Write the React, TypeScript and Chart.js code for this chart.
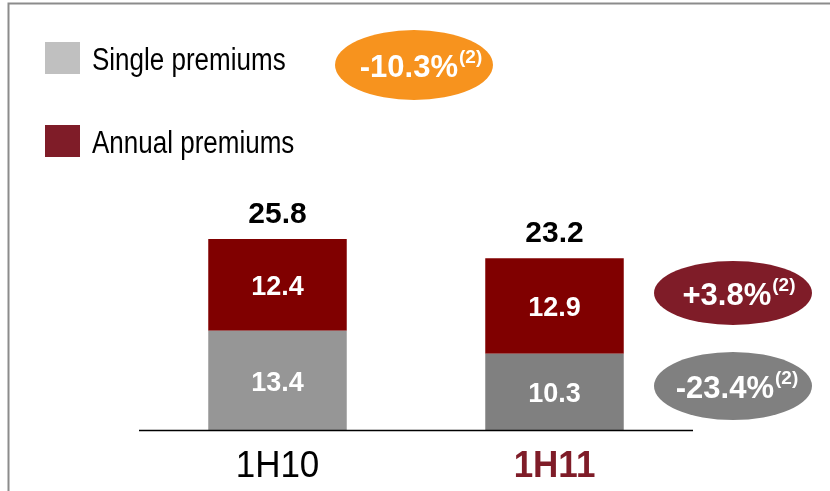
import React, { useEffect, useRef } from "react";
import { Chart, registerables } from "chart.js";

Chart.register(...registerables);

const categories = ["1H10", "1H11"];
const singlePremiums = [13.4, 10.3];
const annualPremiums = [12.4, 12.9];
const totals = [25.8, 23.2];
const seriesNames = ["Single premiums", "Annual premiums"];
const growthTotal = "-10.3%";
const growthAnnual = "+3.8%";
const growthSingle = "-23.4%";
const footnote = "(2)";

const FONT = "'Liberation Sans', Arial, sans-serif";
const RED = "#7F1C28";

function stretchedText(ctx: CanvasRenderingContext2D, text: string, x: number, y: number, sy: number) {
  ctx.save();
  ctx.translate(x, y);
  ctx.scale(1, sy);
  ctx.fillText(text, 0, 0);
  ctx.restore();
}

function drawOval(ctx: CanvasRenderingContext2D, cx: number, cy: number, rx: number, ry: number, fill: string, text: string, dx: number) {
  ctx.save();
  ctx.fillStyle = fill;
  ctx.beginPath();
  ctx.ellipse(cx, cy, rx, ry, 0, 0, Math.PI * 2);
  ctx.fill();
  ctx.fillStyle = "#ffffff";
  ctx.textBaseline = "alphabetic";
  ctx.font = `bold 31px ${FONT}`;
  const w1 = ctx.measureText(text).width;
  ctx.font = `bold 19px ${FONT}`;
  const w2 = ctx.measureText(footnote).width;
  const start = cx + dx - (w1 + w2 + 1) / 2;
  ctx.textAlign = "left";
  ctx.font = `bold 31px ${FONT}`;
  ctx.fillText(text, start, cy + 12);
  ctx.font = `bold 19px ${FONT}`;
  ctx.fillText(footnote, start + w1 + 1, cy - 2);
  ctx.restore();
}

const overlay = {
  id: "overlay",
  afterDatasetsDraw(chart: any) {
    const ctx: CanvasRenderingContext2D = chart.ctx;
    const xs = chart.scales.x;
    const ys = chart.scales.y;
    const area = chart.chartArea;
    ctx.save();
    // frame
    ctx.strokeStyle = "#8c8c8c";
    ctx.lineWidth = 2;
    ctx.beginPath();
    ctx.moveTo(8.5, 491);
    ctx.lineTo(8.5, 3.5);
    ctx.lineTo(830, 3.5);
    ctx.stroke();

    // axis line
    ctx.strokeStyle = "#000000";
    ctx.lineWidth = 1.5;
    ctx.beginPath();
    ctx.moveTo(area.left, ys.getPixelForValue(0) + 0.5);
    ctx.lineTo(area.right, ys.getPixelForValue(0) + 0.5);
    ctx.stroke();

    // category labels
    ctx.textAlign = "center";
    ctx.textBaseline = "alphabetic";
    categories.forEach((c, i) => {
      const x = xs.getPixelForValue(i);
      ctx.font = i === 1 ? `bold 35px ${FONT}` : `35px ${FONT}`;
      ctx.fillStyle = i === 1 ? RED : "#000000";
      stretchedText(ctx, c, x, 477, 1.06);
    });

    // segment labels
    ctx.font = `bold 27px ${FONT}`;
    ctx.fillStyle = "#ffffff";
    categories.forEach((_, i) => {
      const x = xs.getPixelForValue(i);
      const s = singlePremiums[i];
      const a = annualPremiums[i];
      ctx.fillText(s.toFixed(1), x, ys.getPixelForValue(s / 2) + 10.5);
      ctx.fillText(a.toFixed(1), x, ys.getPixelForValue(s + a / 2) + 10);
    });

    // totals
    ctx.font = `bold 30px ${FONT}`;
    ctx.fillStyle = "#000000";
    categories.forEach((_, i) => {
      const x = xs.getPixelForValue(i);
      const top = ys.getPixelForValue(singlePremiums[i] + annualPremiums[i]);
      ctx.fillText(totals[i].toFixed(1), x, top - 16);
    });

    // legend
    const legendColors = ["#C0C0C0", RED];
    const legendTop = [42, 125];
    ctx.textAlign = "left";
    ctx.font = `26px ${FONT}`;
    seriesNames.forEach((n, i) => {
      ctx.fillStyle = legendColors[i];
      ctx.fillRect(45, legendTop[i], 35, 32);
      ctx.fillStyle = "#000000";
      stretchedText(ctx, n, 92, legendTop[i] + 28, 1.2);
    });

    // ovals
    drawOval(ctx, 414, 65, 79, 35, "#F7931E", growthTotal, 7);
    drawOval(ctx, 733, 293, 79, 32, RED, growthAnnual, 6);
    drawOval(ctx, 733, 386, 79, 34, "#808080", growthSingle, 4);
    ctx.restore();
  },
};

export default function App() {
  const ref = useRef<HTMLCanvasElement>(null);
  useEffect(() => {
    if (!ref.current) return;
    const chart = new Chart(ref.current, {
      type: "bar",
      data: {
        labels: categories,
        datasets: [
          {
            label: seriesNames[0],
            data: singlePremiums,
            backgroundColor: ["#969696", "#808080"],
            borderWidth: 0,
          },
          {
            label: seriesNames[1],
            data: annualPremiums,
            backgroundColor: "#800000",
            borderWidth: 0,
          },
        ],
      },
      options: {
        animation: false,
        responsive: false,
        maintainAspectRatio: false,
        layout: { padding: { left: 139, right: 137, top: 208, bottom: 61 } },
        datasets: { bar: { barPercentage: 1, categoryPercentage: 0.5 } },
        scales: {
          x: { display: false, stacked: true },
          y: { display: false, stacked: true, min: 0, max: 30 },
        },
        plugins: { legend: { display: false }, tooltip: { enabled: false } },
      },
      plugins: [overlay],
    });
    return () => chart.destroy();
  }, []);
  return (
    <div style={{ position: "absolute", left: 0, top: 0, width: 830, height: 491, background: "#fff" }}>
      <canvas ref={ref} width={830} height={491} style={{ width: 830, height: 491, display: "block" }} />
    </div>
  );
}
